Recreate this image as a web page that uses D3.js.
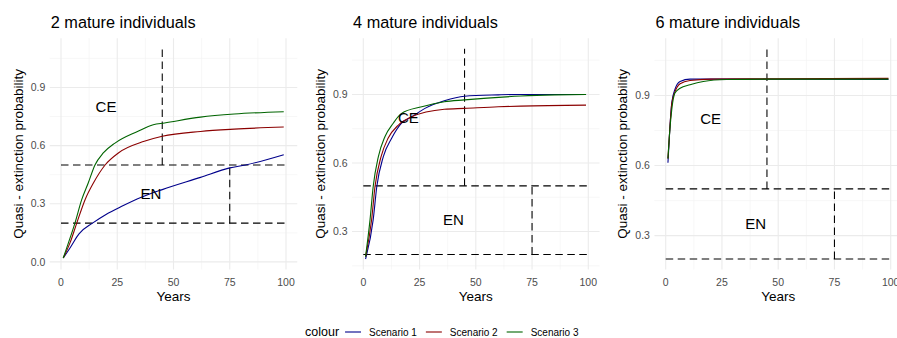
<!DOCTYPE html>
<html>
<head>
<meta charset="utf-8">
<script src="https://cdn.jsdelivr.net/npm/d3@7"></script>
<style>
  body { margin: 0; background: #fff; }
  svg text { font-family: "Liberation Sans", Arial, sans-serif; }
</style>
</head>
<body>
<svg id="chart" width="897" height="338"></svg>
<script>
// panel titles and y-range lower limits
let titles = ["2 mature individuals", "4 mature individuals", "6 mature individuals"];
let yLow = [0.015, 0.18, 0.2];
let yHigh = 1.1;
let scenarios = ["Scenario 1", "Scenario 2", "Scenario 3"];
let colours = ["#00008B", "#8B0000", "#006400"];

// curves: [year, probability] per panel, per scenario
let p1s1 = [[1,0.02],[4,0.072],[8,0.145],[14,0.2],[20,0.245],[27,0.287],[36,0.335],[45,0.373],[62,0.436],[75,0.485],[82,0.5],[99,0.553]];
let p1s2 = [[1,0.02],[4,0.098],[7,0.2],[10.7,0.321],[14.4,0.407],[19.6,0.5],[25.5,0.562],[37,0.622],[45,0.648],[62,0.673],[77,0.685],[99,0.696]];
let p1s3 = [[1,0.02],[3.3,0.098],[6.2,0.2],[9.2,0.321],[12.1,0.407],[15.1,0.5],[18.8,0.562],[24,0.613],[34,0.673],[41,0.708],[46,0.717],[62,0.747],[77,0.763],[99,0.775]];

let p2s1 = [[1,0.18],[4.4,0.352],[6,0.497],[8.9,0.628],[12.6,0.708],[17,0.774],[21.5,0.802],[27.4,0.839],[36,0.872],[45,0.892],[60,0.898],[70,0.9],[99,0.9]];
let p2s2 = [[1,0.19],[3.7,0.352],[5.2,0.497],[7.9,0.628],[11,0.708],[15.6,0.766],[21.5,0.802],[36,0.835],[45,0.839],[60,0.846],[70,0.849],[99,0.853]];
let p2s3 = [[1,0.19],[3,0.352],[4.4,0.497],[6.7,0.628],[9.6,0.715],[13.3,0.774],[17,0.817],[26,0.846],[36,0.868],[45,0.876],[55,0.884],[70,0.893],[85,0.898],[99,0.9]];

let p3s1 = [[1,0.612],[1.9,0.768],[2.7,0.868],[4.1,0.926],[6.4,0.96],[10.8,0.97],[30,0.97],[60,0.969],[99,0.968]];
let p3s2 = [[1,0.63],[1.9,0.768],[2.7,0.865],[4.1,0.915],[6.4,0.95],[10.8,0.964],[20,0.97],[45,0.971],[99,0.973]];
let p3s3 = [[1,0.63],[1.9,0.76],[2.7,0.84],[4.1,0.91],[6.4,0.931],[10.8,0.946],[16.7,0.96],[27,0.968],[45,0.97],[99,0.97]];

let curves = [[p1s1, p1s2, p1s3], [p2s1, p2s2, p2s3], [p3s1, p3s2, p3s3]];

// threshold guides
let hLines = [0.5, 0.2];
let vLines = [{ x: 45, y0: 0.5, y1: 1.1 }, { x: 75, y0: 0.2, y1: 0.5 }];
let labels = [{ text: "CE", x: 20, y: 0.8 }, { text: "EN", x: 40, y: 0.35 }];

let xMajor = [0, 25, 50, 75, 100];
let xMinor = [12.5, 37.5, 62.5, 87.5];
let yMajor = [0, 0.3, 0.6, 0.9];
let yMinor = [0.15, 0.45, 0.75, 1.05];

var svg = d3.select("#chart");
var panelLeft = [49.75, 352.05, 654.45];
var panelW = 247.5;
var plotTop = 38.2, plotBottom = 269.5;

titles.forEach(function (title, i) {
    let x = d3.scaleLinear().domain([-5, 105]).range([panelLeft[i], panelLeft[i] + panelW]);
    let r = yHigh - yLow[i];
    let y = d3.scaleLinear().domain([yLow[i] - 0.05 * r, yHigh + 0.05 * r]).range([plotBottom, plotTop]);
    let yd = y.domain();
    let inY = v => v >= yd[0] && v <= yd[1];

    let g = svg.append("g");

    // grid
    g.selectAll(".gxm").data(xMinor).enter().append("line")
        .attr("x1", d => x(d)).attr("x2", d => x(d)).attr("y1", plotTop).attr("y2", plotBottom)
        .attr("stroke", "#f1f1f1").attr("stroke-width", 0.6);
    g.selectAll(".gym").data(yMinor.filter(inY)).enter().append("line")
        .attr("x1", x.range()[0]).attr("x2", x.range()[1]).attr("y1", d => y(d)).attr("y2", d => y(d))
        .attr("stroke", "#f1f1f1").attr("stroke-width", 0.6);
    g.selectAll(".gx").data(xMajor).enter().append("line")
        .attr("x1", d => x(d)).attr("x2", d => x(d)).attr("y1", plotTop).attr("y2", plotBottom)
        .attr("stroke", "#ebebeb").attr("stroke-width", 1.1);
    g.selectAll(".gy").data(yMajor.filter(inY)).enter().append("line")
        .attr("x1", x.range()[0]).attr("x2", x.range()[1]).attr("y1", d => y(d)).attr("y2", d => y(d))
        .attr("stroke", "#ebebeb").attr("stroke-width", 1.1);

    // tick labels
    g.selectAll(".xt").data(xMajor).enter().append("text")
        .attr("x", d => x(d)).attr("y", 285.5)
        .attr("text-anchor", "middle").attr("font-size", "10.5px").attr("fill", "#4d4d4d")
        .text(d => d);
    g.selectAll(".yt").data(yMajor.filter(inY)).enter().append("text")
        .attr("x", panelLeft[i] - 4.5).attr("y", d => y(d)).attr("dy", "0.35em")
        .attr("text-anchor", "end").attr("font-size", "10.5px").attr("fill", "#4d4d4d")
        .text(d => d3.format(".1f")(d));

    // dashed guides
    g.selectAll(".hl").data(hLines).enter().append("line")
        .attr("x1", x(0)).attr("x2", x(100)).attr("y1", d => y(d)).attr("y2", d => y(d))
        .attr("stroke", "#000").attr("stroke-width", 1.07).attr("stroke-dasharray", "7.5,4.5");
    g.selectAll(".vl").data(vLines).enter().append("line")
        .attr("x1", d => x(d.x)).attr("x2", d => x(d.x)).attr("y1", d => y(d.y0)).attr("y2", d => y(d.y1))
        .attr("stroke", "#000").attr("stroke-width", 1.07).attr("stroke-dasharray", "7.5,4.5");

    // curves
    let line = d3.line().x(d => x(d[0])).y(d => y(d[1])).curve(d3.curveMonotoneX);
    curves[i].forEach(function (c, k) {
        g.append("path").datum(c).attr("d", line)
            .attr("fill", "none").attr("stroke", colours[k]).attr("stroke-width", 1.1);
    });

    // CE / EN
    g.selectAll(".lab").data(labels).enter().append("text")
        .attr("x", d => x(d.x)).attr("y", d => y(d.y)).attr("dy", "0.35em")
        .attr("text-anchor", "middle").attr("font-size", "15px").attr("fill", "#000")
        .text(d => d.text);

    // titles
    g.append("text").attr("x", panelLeft[i] + 1).attr("y", 28)
        .attr("font-size", "16.3px").attr("fill", "#000").text(title);
    g.append("text").attr("x", (x.range()[0] + x.range()[1]) / 2).attr("y", 301)
        .attr("text-anchor", "middle").attr("font-size", "13.5px").attr("fill", "#000").text("Years");
    g.append("text")
        .attr("transform", "translate(" + (panelLeft[i] - 27) + "," + ((plotTop + plotBottom) / 2) + ") rotate(-90)")
        .attr("text-anchor", "middle").attr("font-size", "13.5px").attr("fill", "#000")
        .text("Quasi - extinction probability");
});

// legend
var legend = svg.append("g");
var ly = 332;
var lx = 305;
var lt = legend.append("text").attr("x", lx).attr("y", ly).attr("dy", "0.35em")
    .attr("font-size", "12.5px").text("colour");
lx += lt.node().getComputedTextLength() + 6;
scenarios.forEach(function (s, k) {
    legend.append("line").attr("x1", lx).attr("x2", lx + 16).attr("y1", ly).attr("y2", ly)
        .attr("stroke", colours[k]).attr("stroke-width", 1.1);
    lx += 24;
    let t = legend.append("text").attr("x", lx).attr("y", ly).attr("dy", "0.35em")
        .attr("font-size", "10px").text(s);
    lx += t.node().getComputedTextLength() + 9;
});
</script>
</body>
</html>
